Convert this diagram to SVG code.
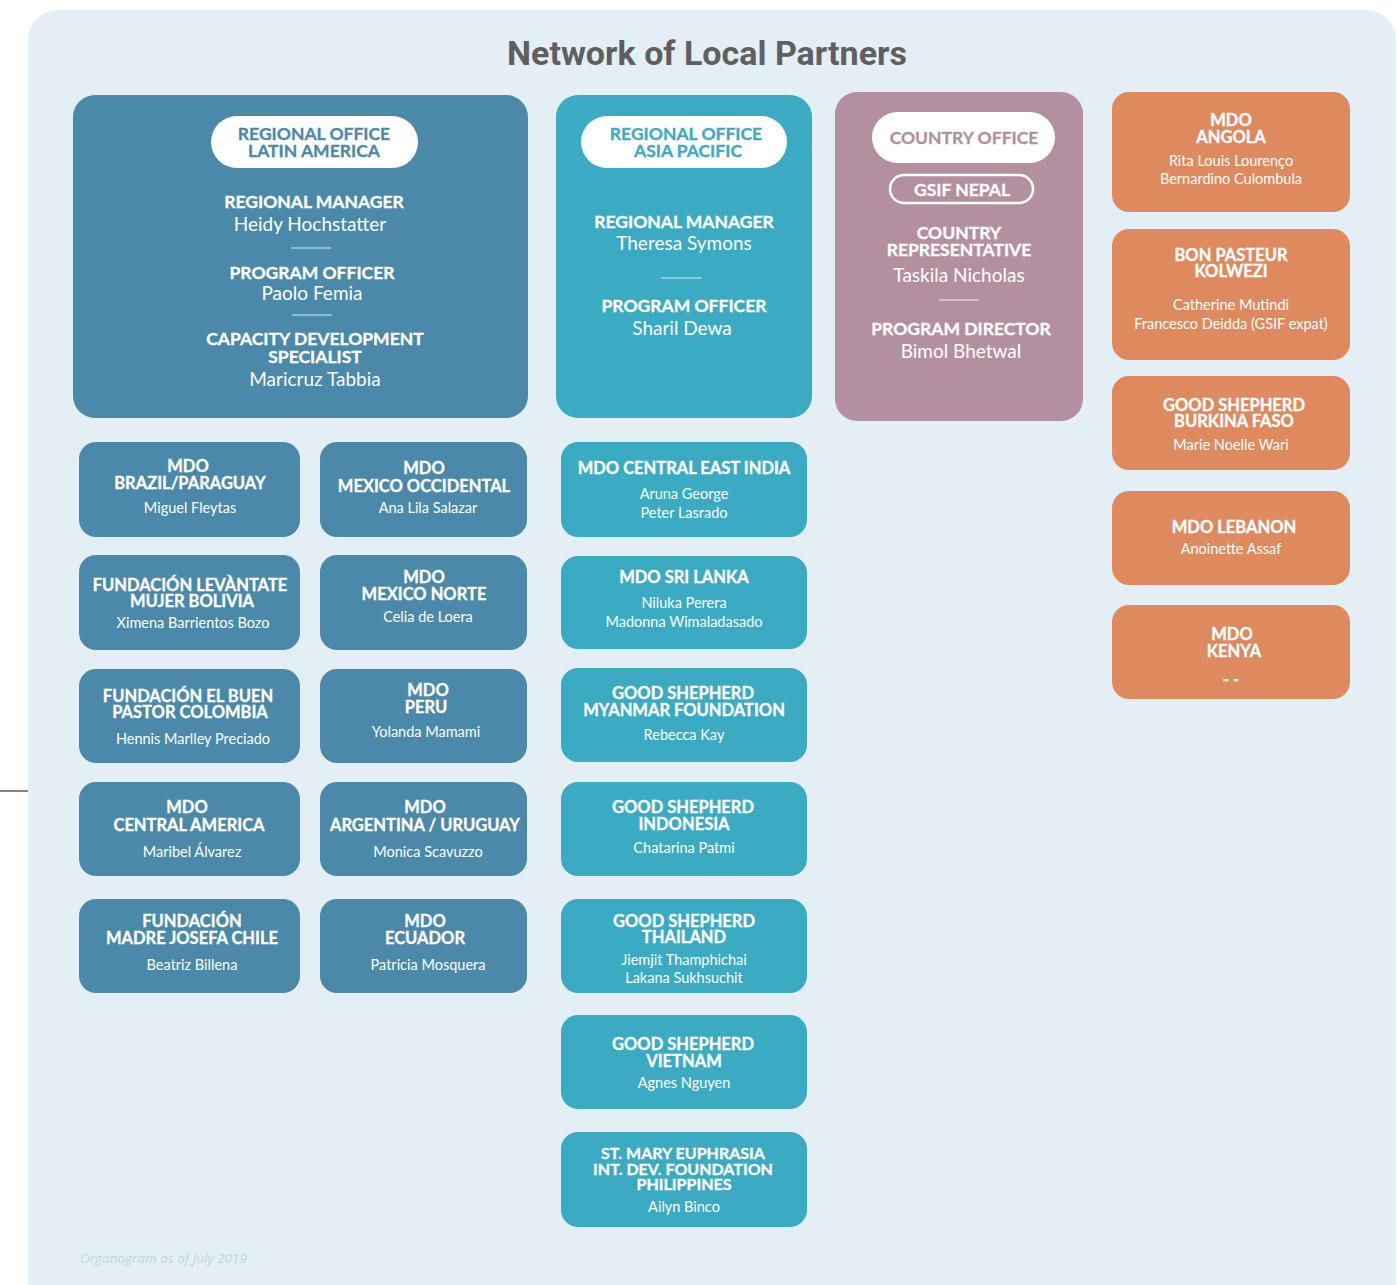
<svg xmlns="http://www.w3.org/2000/svg" width="1398" height="1285" viewBox="0 0 1398 1285">
<style>
.bg{fill:#e3eef5}
.la{fill:#4a89a9}
.ap{fill:#3aabc3}
.co{fill:#b48fa0}
.af{fill:#de8a5e}
.pill{fill:#ffffff}
text{font-family:Lato,"Open Sans","Noto Sans",sans-serif;text-anchor:middle;fill:#ffffff}
.h{font-weight:700;font-size:16.5px;stroke:#ffffff;stroke-width:0.3px}
.hb{font-weight:700;font-size:17.5px;stroke:#ffffff;stroke-width:0.3px}
.n{font-weight:400;font-size:14.5px}
.nb{font-weight:400;font-size:19px}
.cla{fill:#4a89a9;stroke:#4a89a9}
.cap{fill:#3aabc3;stroke:#3aabc3}
.cco{fill:#b48fa0;stroke:#b48fa0}
.div{stroke:#ffffff;stroke-width:1.2;opacity:0.8}
.title{font-family:Roboto,"Liberation Sans",sans-serif;font-weight:700;font-size:34px;fill:#5f5f5f}
.foot{font-family:"Open Sans",Lato,sans-serif;font-style:italic;font-size:13.5px;fill:#c3d2dc;text-anchor:start}
</style>
<rect class="bg" x="28" y="10" width="1368" height="1310" rx="30"/>
<line x1="0" y1="791" x2="28" y2="791" stroke="#333333" stroke-width="1.2"/>
<text class="title" x="707" y="65">Network of Local Partners</text>

<g id="ro-latin-america">
<rect class="la" x="73" y="95" width="455" height="323" rx="22"/>
<rect class="pill" x="211" y="116" width="207" height="52" rx="26"/>
<text class="hb cla" x="314" y="140">REGIONAL OFFICE<tspan x="314" dy="17">LATIN AMERICA</tspan></text>
<text class="hb" x="314" y="208">REGIONAL MANAGER</text>
<text class="nb" x="310" y="231">Heidy Hochstatter</text>
<line class="div" x1="291" y1="248" x2="331" y2="248"/>
<text class="hb" x="312" y="279">PROGRAM OFFICER</text>
<text class="nb" x="312" y="300">Paolo Femia</text>
<line class="div" x1="292" y1="315" x2="332" y2="315"/>
<text class="hb" x="315" y="345">CAPACITY DEVELOPMENT<tspan x="315" dy="18">SPECIALIST</tspan></text>
<text class="nb" x="315" y="386">Maricruz Tabbia</text>
</g>

<g id="ro-asia-pacific">
<rect class="ap" x="556" y="95" width="256" height="323" rx="22"/>
<rect class="pill" x="581" y="116" width="206" height="52" rx="26"/>
<text class="hb cap" x="686" y="140">REGIONAL OFFICE<tspan x="688" dy="17">ASIA PACIFIC</tspan></text>
<text class="hb" x="684" y="228">REGIONAL MANAGER</text>
<text class="nb" x="684" y="250">Theresa Symons</text>
<line class="div" x1="661" y1="278" x2="702" y2="278"/>
<text class="hb" x="684" y="312">PROGRAM OFFICER</text>
<text class="nb" x="682" y="335">Sharil Dewa</text>
</g>

<g id="co-nepal">
<rect class="co" x="835" y="92" width="248" height="329" rx="22"/>
<rect class="pill" x="872" y="112" width="183" height="51" rx="25.5"/>
<text class="hb cco" x="964" y="144">COUNTRY OFFICE</text>
<rect x="890" y="175" width="143" height="28" rx="14" fill="none" stroke="#ffffff" stroke-width="2.5"/>
<text class="hb" x="962" y="196">GSIF NEPAL</text>
<text class="hb" x="959" y="239">COUNTRY<tspan x="959" dy="17">REPRESENTATIVE</tspan></text>
<text class="nb" x="959" y="282">Taskila Nicholas</text>
<line class="div" x1="939" y1="300" x2="979" y2="300"/>
<text class="hb" x="961" y="335">PROGRAM DIRECTOR</text>
<text class="nb" x="961" y="358">Bimol Bhetwal</text>
</g>

<g id="mdo-brazil-paraguay">
<rect class="la" x="79" y="442" width="221" height="95" rx="17"/>
<text class="h" x="188" y="472">MDO<tspan x="190" dy="17">BRAZIL/PARAGUAY</tspan></text>
<text class="n" x="190" y="513">Miguel Fleytas</text>
</g>
<g id="mdo-mexico-occidental">
<rect class="la" x="320" y="442" width="207" height="95" rx="17"/>
<text class="h" x="424" y="474">MDO<tspan x="424" dy="18">MEXICO OCCIDENTAL</tspan></text>
<text class="n" x="428" y="513">Ana Lila Salazar</text>
</g>
<g id="fundacion-levantate">
<rect class="la" x="79" y="555" width="221" height="95" rx="17"/>
<text class="h" x="190" y="591">FUNDACIÓN LEVÀNTATE<tspan x="192" dy="16">MUJER BOLIVIA</tspan></text>
<text class="n" x="193" y="628">Ximena Barrientos Bozo</text>
</g>
<g id="mdo-mexico-norte">
<rect class="la" x="320" y="555" width="207" height="95" rx="17"/>
<text class="h" x="424" y="583">MDO<tspan x="424" dy="17">MEXICO NORTE</tspan></text>
<text class="n" x="428" y="622">Celia de Loera</text>
</g>
<g id="fundacion-buen-pastor">
<rect class="la" x="79" y="669" width="221" height="94" rx="17"/>
<text class="h" x="188" y="702">FUNDACIÓN EL BUEN<tspan x="190" dy="16">PASTOR COLOMBIA</tspan></text>
<text class="n" x="193" y="744">Hennis Marlley Preciado</text>
</g>
<g id="mdo-peru">
<rect class="la" x="320" y="669" width="207" height="94" rx="17"/>
<text class="h" x="428" y="696">MDO<tspan x="426" dy="17">PERU</tspan></text>
<text class="n" x="426" y="737">Yolanda Mamami</text>
</g>
<g id="mdo-central-america">
<rect class="la" x="79" y="782" width="221" height="94" rx="17"/>
<text class="h" x="187" y="813">MDO<tspan x="189" dy="18">CENTRAL AMERICA</tspan></text>
<text class="n" x="192" y="857">Maribel Álvarez</text>
</g>
<g id="mdo-argentina-uruguay">
<rect class="la" x="320" y="782" width="207" height="94" rx="17"/>
<text class="h" x="425" y="813">MDO<tspan x="425" dy="18">ARGENTINA / URUGUAY</tspan></text>
<text class="n" x="428" y="857">Monica Scavuzzo</text>
</g>
<g id="fundacion-madre-josefa">
<rect class="la" x="79" y="899" width="221" height="94" rx="17"/>
<text class="h" x="192" y="927">FUNDACIÓN<tspan x="192" dy="17">MADRE JOSEFA CHILE</tspan></text>
<text class="n" x="192" y="970">Beatriz Billena</text>
</g>
<g id="mdo-ecuador">
<rect class="la" x="320" y="899" width="207" height="94" rx="17"/>
<text class="h" x="425" y="927">MDO<tspan x="425" dy="17">ECUADOR</tspan></text>
<text class="n" x="428" y="970">Patricia Mosquera</text>
</g>

<g id="mdo-central-east-india">
<rect class="ap" x="561" y="442" width="246" height="95" rx="17"/>
<text class="h" x="684" y="474">MDO CENTRAL EAST INDIA</text>
<text class="n" x="684" y="499">Aruna George<tspan x="684" dy="19">Peter Lasrado</tspan></text>
</g>
<g id="mdo-sri-lanka">
<rect class="ap" x="561" y="556" width="246" height="93" rx="17"/>
<text class="h" x="684" y="583">MDO SRI LANKA</text>
<text class="n" x="684" y="608">Niluka Perera<tspan x="684" dy="19">Madonna Wimaladasado</tspan></text>
</g>
<g id="gs-myanmar">
<rect class="ap" x="561" y="668" width="246" height="94" rx="17"/>
<text class="h" x="683" y="699">GOOD SHEPHERD<tspan x="684" dy="17">MYANMAR FOUNDATION</tspan></text>
<text class="n" x="684" y="740">Rebecca Kay</text>
</g>
<g id="gs-indonesia">
<rect class="ap" x="561" y="782" width="246" height="94" rx="17"/>
<text class="h" x="683" y="813">GOOD SHEPHERD<tspan x="684" dy="17">INDONESIA</tspan></text>
<text class="n" x="684" y="853">Chatarina Patmi</text>
</g>
<g id="gs-thailand">
<rect class="ap" x="561" y="899" width="246" height="94" rx="17"/>
<text class="h" x="684" y="927">GOOD SHEPHERD<tspan x="684" dy="16">THAILAND</tspan></text>
<text class="n" x="684" y="965">Jiemjit Thamphichai<tspan x="684" dy="18">Lakana Sukhsuchit</tspan></text>
</g>
<g id="gs-vietnam">
<rect class="ap" x="561" y="1015" width="246" height="94" rx="17"/>
<text class="h" x="683" y="1050">GOOD SHEPHERD<tspan x="684" dy="17">VIETNAM</tspan></text>
<text class="n" x="684" y="1088">Agnes Nguyen</text>
</g>
<g id="st-mary-euphrasia">
<rect class="ap" x="561" y="1132" width="246" height="95" rx="17"/>
<text class="h" x="683" y="1159" style="font-size:16px">ST. MARY EUPHRASIA<tspan x="683" dy="16">INT. DEV. FOUNDATION</tspan><tspan x="684" dy="15">PHILIPPINES</tspan></text>
<text class="n" x="684" y="1212">Ailyn Binco</text>
</g>

<g id="mdo-angola">
<rect class="af" x="1112" y="92" width="238" height="120" rx="17"/>
<text class="h" x="1231" y="126">MDO<tspan x="1231" dy="17">ANGOLA</tspan></text>
<text class="n" x="1231" y="166">Rita Louis Lourenço<tspan x="1231" dy="18">Bernardino Culombula</tspan></text>
</g>
<g id="bon-pasteur-kolwezi">
<rect class="af" x="1112" y="229" width="238" height="131" rx="17"/>
<text class="h" x="1231" y="261">BON PASTEUR<tspan x="1231" dy="16">KOLWEZI</tspan></text>
<text class="n" x="1231" y="310">Catherine Mutindi<tspan x="1231" dy="19">Francesco Deidda (GSIF expat)</tspan></text>
</g>
<g id="gs-burkina-faso">
<rect class="af" x="1112" y="376" width="238" height="94" rx="17"/>
<text class="h" x="1234" y="411">GOOD SHEPHERD<tspan x="1234" dy="16">BURKINA FASO</tspan></text>
<text class="n" x="1231" y="450">Marie Noelle Wari</text>
</g>
<g id="mdo-lebanon">
<rect class="af" x="1112" y="491" width="238" height="94" rx="17"/>
<text class="h" x="1234" y="533">MDO LEBANON</text>
<text class="n" x="1231" y="554">Anoinette Assaf</text>
</g>
<g id="mdo-kenya">
<rect class="af" x="1112" y="605" width="238" height="94" rx="17"/>
<text class="h" x="1232" y="640">MDO<tspan x="1234" dy="17">KENYA</tspan></text>
<text class="h" x="1231" y="685">- -</text>
</g>

<g id="connectors"></g>

<text class="foot" x="80" y="1263">Organogram as of July 2019</text>
</svg>
